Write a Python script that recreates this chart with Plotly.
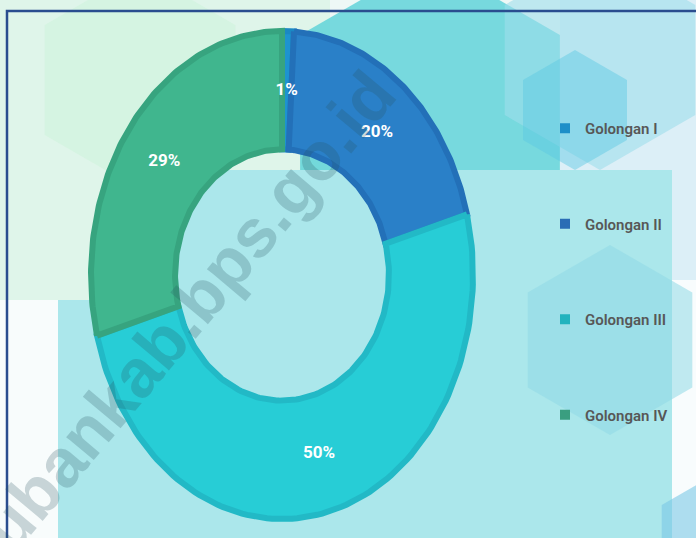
import numpy as np
import plotly.graph_objects as go

# data
categories = ["Golongan I", "Golongan II", "Golongan III", "Golongan IV"]
values = [1, 20, 50, 29]
labels = ["1%", "20%", "50%", "29%"]

# styling
fill_colors = ["#1D93D0", "#2A80C8", "#27CDD6", "#40B68E"]
edge_colors = ["#1A88C4", "#2370B8", "#22B9C6", "#37A47F"]
legend_colors = ["#1E8FC8", "#2A6DB5", "#22B3BE", "#3A9E80"]

W, H = 696, 538
CX, CY = 282, 275       # ring centre in pixels
RX, RY = 191, 244       # outer half-width / half-height
HOLE_X, HOLE_Y = 0.56, 0.515


def hexagon(cx, cy, r):
    ang = np.deg2rad(np.arange(0, 360, 60) + 30)
    pts = [(cx + r * np.cos(a), cy + r * np.sin(a)) for a in ang]
    return "M " + " L ".join(f"{x:.1f},{y:.1f}" for x, y in pts) + " Z"


def ring_xy(theta, rx, ry):
    return CX + RX * rx * np.sin(theta), CY - RY * ry * np.cos(theta)


fig = go.Figure()

# ring slices, clockwise from 12 o'clock
total = sum(values)
bounds = np.concatenate([[0], np.cumsum(values)]) / total * 2 * np.pi
mids = []
for i, name in enumerate(categories):
    a0, a1 = bounds[i], bounds[i + 1]
    t = np.linspace(a0, a1, 120)
    xo, yo = ring_xy(t, 1.0, 1.0)
    xi, yi = ring_xy(t[::-1], HOLE_X, HOLE_Y)
    fig.add_trace(go.Scatter(
        x=np.concatenate([xo, xi, xo[:1]]),
        y=np.concatenate([yo, yi, yo[:1]]),
        mode="lines", fill="toself",
        fillcolor=fill_colors[i],
        line=dict(color=edge_colors[i], width=6),
        hoverinfo="skip", showlegend=False,
    ))
    mids.append((a0 + a1) / 2)

# percentage labels
lx, ly = ring_xy(np.array(mids), (1 + HOLE_X) / 2, (1 + HOLE_Y) / 2)
fig.add_trace(go.Scatter(
    x=lx, y=ly, mode="text", text=labels,
    textfont=dict(family="Roboto, sans-serif", size=17, color="white", weight="bold"),
    hoverinfo="skip", showlegend=False,
))

# legend entries
for i, name in enumerate(categories):
    fig.add_trace(go.Scatter(
        x=[None], y=[None], mode="markers", name=name,
        marker=dict(symbol="square", size=10, color=legend_colors[i]),
        legendgroup=name,
    ))

# background decoration
shapes = [
    dict(type="rect", x0=0, y0=0, x1=W, y1=H, fillcolor="#EEF8F6", line_width=0),
    dict(type="rect", x0=0, y0=0, x1=330, y1=310, fillcolor="#DFF5EA", line_width=0),
    dict(type="rect", x0=560, y0=0, x1=W, y1=300, fillcolor="#DCEFF7", line_width=0),
    dict(type="rect", x0=0, y0=300, x1=58, y1=H, fillcolor="#F8FCFC", line_width=0),
    dict(type="rect", x0=672, y0=280, x1=W, y1=H, fillcolor="#F8FCFD", line_width=0),
    dict(type="path", path=hexagon(140, 80, 110), fillcolor="#CFF3DC", opacity=0.6, line_width=0),
    dict(type="path", path=hexagon(430, 110, 150), fillcolor="#4FCFD6", opacity=0.75, line_width=0),
    dict(type="path", path=hexagon(600, 60, 110), fillcolor="#9FDDEB", opacity=0.6, line_width=0),
    dict(type="rect", x0=58, y0=300, x1=672, y1=H, fillcolor="#ABE7EB", line_width=0),
    dict(type="rect", x0=150, y0=170, x1=672, y1=300, fillcolor="#ABE7EB", line_width=0),
    dict(type="path", path=hexagon(610, 340, 95), fillcolor="#8FD9E6", opacity=0.55, line_width=0),
    dict(type="path", path=hexagon(575, 110, 60), fillcolor="#5CC8E2", opacity=0.45, line_width=0),
    dict(type="path", path=hexagon(705, 530, 50), fillcolor="#7CC8E6", opacity=0.6, line_width=0),
]
shapes = [dict(s, xref="x", yref="y", layer="below") for s in shapes]
shapes.append(dict(type="rect", xref="x", yref="y", x0=7, y0=11, x1=W + 20, y1=H + 20,
                   line=dict(color="#2A4D8F", width=2.5), fillcolor="rgba(0,0,0,0)", layer="above"))

fig.update_layout(
    width=W, height=H,
    margin=dict(l=0, r=0, t=0, b=0),
    paper_bgcolor="#EEF8F6", plot_bgcolor="rgba(0,0,0,0)",
    xaxis=dict(range=[0, W], visible=False, fixedrange=True),
    yaxis=dict(range=[H, 0], visible=False, fixedrange=True),
    shapes=shapes,
    showlegend=True,
    legend=dict(
        x=545 / W, y=1 - 112 / H, xanchor="left", yanchor="top",
        bgcolor="rgba(0,0,0,0)", tracegroupgap=73, itemwidth=30,
        font=dict(family="Roboto, sans-serif", size=15, color="#575757", weight=600),
    ),
    annotations=[dict(
        text="<b>tubankab.bps.go.id</b>", x=180, y=320, xref="x", yref="y",
        textangle=-50, showarrow=False,
        font=dict(family="Liberation Sans, Arial, sans-serif", size=68, color="rgba(40,80,95,0.23)"),
    )],
)

# drop the default page margin so the figure fills the window
fig.write_html("out.html", config={"displayModeBar": False},
               post_script="document.body.style.margin='0';")
